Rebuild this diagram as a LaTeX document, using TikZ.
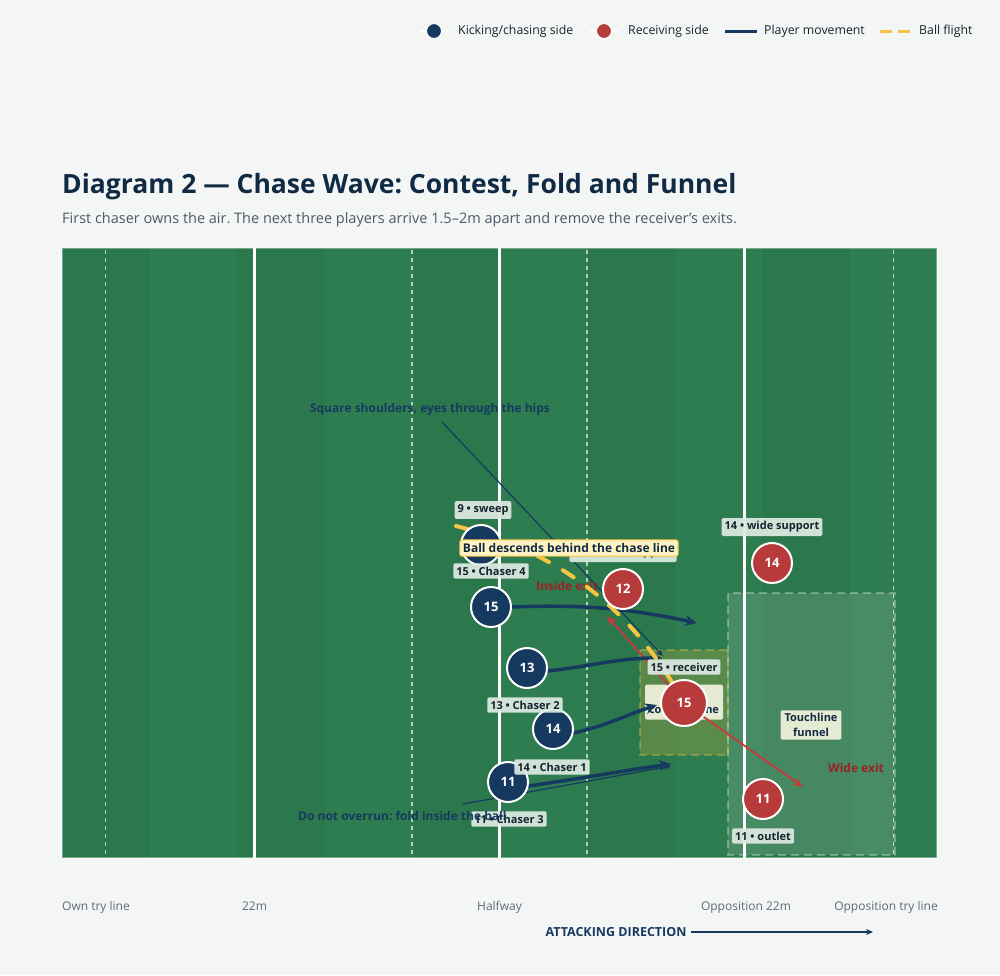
\documentclass[tikz,border=0pt]{standalone}
\usepackage{fontspec}
\setmainfont{Open Sans}
\frenchspacing
\usetikzlibrary{arrows.meta}
\definecolor{bg}{HTML}{F4F6F5}
\definecolor{fieldA}{HTML}{2E7D50}
\definecolor{fieldB}{HTML}{2C784D}
\definecolor{navy}{HTML}{163A5F}
\definecolor{titlenavy}{HTML}{102A43}
\definecolor{rred}{HTML}{B83B3B}
\definecolor{exitred}{HTML}{C83A3A}
\definecolor{exittxt}{HTML}{9B2226}
\definecolor{ballyellow}{HTML}{F5C542}
\definecolor{labelbg}{HTML}{DDE9E2}
\definecolor{labeltxt}{HTML}{16232E}
\definecolor{cream}{HTML}{EEF0DA}
\definecolor{balllab}{HTML}{FFF3C4}
\definecolor{subgray}{HTML}{4A5A68}
\definecolor{axisgray}{HTML}{5C6B78}
\tikzset{
  chase/.style={circle, fill=navy, draw=white, line width=2pt, minimum size=40pt, inner sep=0pt, text=white, font=\fontsize{13}{14}\selectfont\bfseries},
  recv/.style={chase, fill=rred},
  plabel/.style={fill=labelbg, fill opacity=0.93, text opacity=1, rounded corners=1.5pt, inner xsep=3pt, inner ysep=3.5pt, text=labeltxt, font=\fontsize{11}{13}\selectfont\bfseries},
  zonelabel/.style={fill=cream, fill opacity=0.95, text opacity=1, rounded corners=1.5pt, inner xsep=4pt, inner ysep=3pt, text=titlenavy, align=center, font=\fontsize{11}{15}\selectfont\bfseries},
  move/.style={draw=navy, line width=3.5pt, -{Stealth[length=12pt,width=11pt]}},
  notearrow/.style={draw=navy, line width=1.2pt, -{Stealth[length=7pt,width=6pt]}},
  exitarrow/.style={draw=exitred, line width=1.8pt, -{Stealth[length=10pt,width=8pt]}},
  ballpath/.style={draw=ballyellow, line width=4pt, line cap=round, dash pattern=on 13pt off 16pt},
  notetext/.style={text=navy, font=\fontsize{12}{14}\selectfont\bfseries, inner sep=0pt},
  exittext/.style={text=exittxt, font=\fontsize{12}{14}\selectfont\bfseries, inner sep=0pt},
  axislabel/.style={text=axisgray, font=\fontsize{12}{13}\selectfont, inner sep=0pt, anchor=base},
  legtext/.style={text=labeltxt, font=\fontsize{12.3}{14}\selectfont, inner sep=0pt, anchor=west},
  legdot/.style={circle, draw=white, line width=1pt, minimum size=15pt, inner sep=0pt},
  solidline/.style={draw=white, line width=2.6pt},
  tenline/.style={draw=white, draw opacity=0.65, line width=1.1pt, dash pattern=on 4pt off 4pt}
}
\begin{document}
\begin{tikzpicture}[x=1pt,y=-1pt]
\fill[bg] (0,0) rectangle (1000,975);
\useasboundingbox (0,0) rectangle (1000,975);

% legend
\draw[white, line width=1.5pt] (420,31) -- (448,31);
\node[legdot, fill=navy] (lgA) at (434,31) {};
\node[legtext] (lgAt) at (458,31) {Kicking/chasing side};
\draw[white, line width=1.5pt] (590,31) -- (618,31);
\node[legdot, fill=rred] (lgB) at (604,31) {};
\node[legtext] (lgBt) at (628,31) {Receiving side};
\coordinate (lgC1) at (725,31); \coordinate (lgC2) at (757,31);
\draw[navy, line width=3pt] (lgC1) -- (lgC2);
\node[legtext] (lgCt) at (764,31) {Player movement};
\coordinate (lgD1) at (880,31); \coordinate (lgD2) at (910,31);
\draw[ballyellow, line width=3pt, dash pattern=on 12pt off 6pt] (lgD1) -- (lgD2);
\node[legtext] (lgDt) at (919,31) {Ball flight};

% title
\node[anchor=base west, inner sep=0pt, text=titlenavy, font=\fontsize{26.5}{30}\selectfont\bfseries] (title) at (62,193) {Diagram 2 — Chase Wave: Contest, Fold and Funnel};
\node[anchor=base west, inner sep=0pt, text=subgray, font=\fontsize{14.5}{18}\selectfont] (subtitle) at (62,223) {First chaser owns the air. The next three players arrive 1.5–2m apart and remove the receiver’s exits.};

% field stripes
\foreach \i in {0,...,9} {
  \pgfmathsetmacro{\xa}{62+87.5*\i}
  \pgfmathsetmacro{\xb}{62+87.5*(\i+1)}
  \pgfmathtruncatemacro{\odd}{mod(\i,2)}
  \ifnum\odd=0
    \fill[fieldB] (\xa,248) rectangle (\xb,858);
  \else
    \fill[fieldA] (\xa,248) rectangle (\xb,858);
  \fi
}
\draw[white, draw opacity=0.35, line width=1.5pt] (62,248) rectangle (937,858);
\foreach \x in {105.75,412,587,893.25} \draw[tenline] (\x,250) -- (\x,856);
\foreach \x in {254.5,499.5,744.5} \draw[solidline] (\x,248) -- (\x,858);

% zones
\fill[ballyellow, fill opacity=0.22] (640,650) rectangle (728,755);
\draw[ballyellow, draw opacity=0.35, line width=1.5pt, dash pattern=on 8pt off 5pt] (640,650) rectangle (728,755);
\fill[white, fill opacity=0.12] (728,593) rectangle (895,855);
\draw[white, draw opacity=0.3, line width=1.5pt, dash pattern=on 8pt off 5pt] (728,593) rectangle (895,855);
\node[zonelabel, minimum width=78pt, minimum height=35pt] (cz) at (684,702) {Aerial\\contest zone};
\node[zonelabel] (tf) at (811,725) {Touchline\\funnel};

% players (positions)
\coordinate (p9) at (481,545);
\coordinate (p15) at (491,607);
\coordinate (p13) at (527,668);
\coordinate (p14) at (553,729);
\coordinate (p11) at (508,782);
\coordinate (q12) at (623,589);
\coordinate (q14) at (772,563);
\coordinate (q15) at (684,703);
\coordinate (q11) at (763,799);

% exit arrows
\coordinate (exIn) at (607,616);
\coordinate (exWide) at (803,787);
\draw[exitarrow] (q15) -- (exIn);
\draw[exitarrow] (q15) -- (exWide);

% movement arrows
\coordinate (e15) at (697,623);
\coordinate (e13) at (662,658);
\coordinate (e14) at (657,705);
\coordinate (e11) at (671,764);
\draw[move] ([xshift=20pt]p15) to[out=2,in=168] (e15);
\draw[move] ([xshift=20pt,yshift=-3pt]p13) to[out=6,in=180] (e13);
\draw[move] ([xshift=20pt,yshift=-4pt]p14) to[out=12,in=198] (e14);
\draw[move] ([xshift=20pt,yshift=-4pt]p11) to[out=8,in=188] (e11);

% annotation lines
\coordinate (sqA) at (442,422);
\coordinate (sqB) at (663,656);
\draw[notearrow] (sqA) -- (sqB);
\coordinate (dnA) at (463,804);
\coordinate (dnB) at (671,766);
\draw[notearrow] (dnA) -- (dnB);

% exit texts
\node[exittext] (inx) at (567,586) {Inside exit};
\node[exittext] (wdx) at (856,768) {Wide exit};

% ball flight
\coordinate (b0) at (456,526);
\draw[ballpath] (b0) .. controls (530,545) and (620,585) .. (q15);

% player circles
\node[chase] (n9) at (p9) {9};
\node[chase] (n15) at (p15) {15};
\node[chase] (n13) at (p13) {13};
\node[chase] (n14) at (p14) {14};
\node[chase] (n11) at (p11) {11};
\node[recv] (r12) at (q12) {12};
\node[recv] (r14) at (q14) {14};
\node[recv, minimum size=46pt] (r15) at (q15) {15};
\node[recv] (r11) at (q11) {11};

% player labels
\node[plabel] (l9) at (483,510) {9 • sweep};
\node[plabel] (l15) at (491,571) {15 • Chaser 4};
\node[plabel] (l13) at (525,705) {13 • Chaser 2};
\node[plabel] (l14) at (552,767) {14 • Chaser 1};
\node[plabel] (l11) at (509,819) {11 • Chaser 3};
\node[plabel] (lq12) at (623,553) {12 • inside support};
\node[plabel] (lq14) at (772,527) {14 • wide support};
\node[plabel] (lq15) at (684,667) {15 • receiver};
\node[plabel] (lq11) at (763,836) {11 • outlet};

% annotation texts
\node[notetext] (sq) at (430,409) {Square shoulders, eyes through the hips};
\node[notetext, anchor=west] (dn) at (298,816) {Do not overrun: fold inside the ball};

% ball label
\node[fill=balllab, draw=ballyellow, line width=1pt, rounded corners=2pt, inner xsep=3pt, inner ysep=3.5pt, text=titlenavy, font=\fontsize{12}{14}\selectfont\bfseries] (bl) at (569,548) {Ball descends behind the chase line};

% axis labels
\node[axislabel, anchor=base west] (ax0) at (62,910) {Own try line};
\node[axislabel] (ax1) at (254.5,910) {22m};
\node[axislabel] (ax2) at (499.5,910) {Halfway};
\node[axislabel] (ax3) at (746,910) {Opposition 22m};
\node[axislabel, anchor=base east] (ax4) at (938,910) {Opposition try line};

% attacking direction
\node[text=navy, font=\fontsize{12.5}{14}\selectfont\bfseries, inner sep=0pt] (att) at (616,932) {ATTACKING DIRECTION};
\coordinate (attEnd) at (873,932);
\draw[navy, line width=2pt, -{Stealth[length=7pt,width=6pt]}] ([xshift=4pt]att.east) -- (attEnd);
\end{tikzpicture}
\end{document}
